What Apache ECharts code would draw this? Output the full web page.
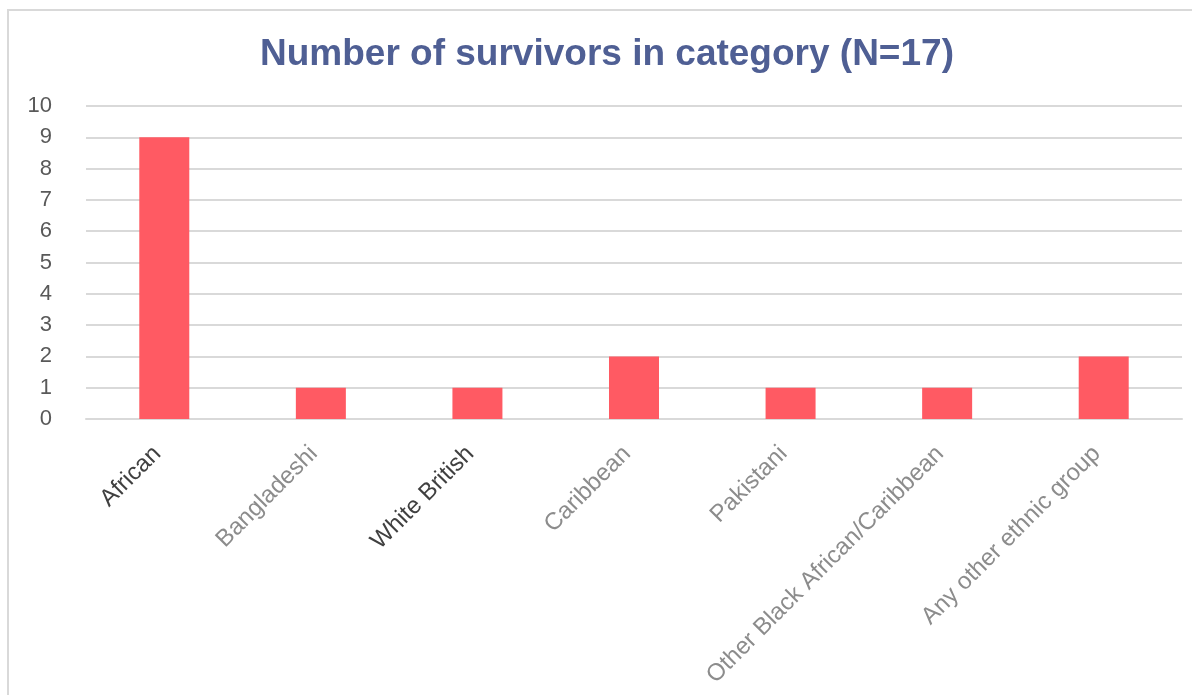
<!DOCTYPE html>
<html>
<head>
<meta charset="utf-8">
<script src="https://cdn.jsdelivr.net/npm/echarts@6/dist/echarts.min.js"></script>
<style>
  html, body { margin: 0; padding: 0; background: #fff; }
  #chart { width: 1192px; height: 695px; }
</style>
</head>
<body>
<div id="chart"></div>
<script>
// categories and values
const categories = ["African", "Bangladeshi", "White British", "Caribbean", "Pakistani", "Other Black African/Caribbean", "Any other ethnic group"];
const survivors = [9, 1, 1, 2, 1, 1, 2];
// label colours: some labels are darker in the original
const labelColors = ["#404040", "#8c8c8c", "#404040", "#8c8c8c", "#8c8c8c", "#8c8c8c", "#8c8c8c"];
const yTicks = [0, 10, 1]; // min, max, interval

const chart = echarts.init(document.getElementById("chart"));

const option = {
  animation: false,
  backgroundColor: "#fff",
  title: {
    text: "Number of survivors in category (N=17)",
    left: 255,
    top: 31,
    textStyle: {
      fontFamily: "Liberation Sans",
      fontSize: 37,
      fontWeight: "bold",
      color: "#4f5f94"
    }
  },
  graphic: [
    {
      type: "rect",
      shape: { x: 8, y: 10, width: 1200, height: 700 },
      style: { fill: null, stroke: "#d9d9d9", lineWidth: 2 },
      silent: true
    }
  ],
  grid: {
    left: 86,
    right: 10,
    top: 106,
    bottom: 276
  },
  xAxis: {
    type: "category",
    data: categories,
    axisLine: { show: true, lineStyle: { color: "#d9d9d9", width: 2 } },
    axisTick: { show: false },
    axisLabel: {
      rotate: 45,
      interval: 0,
      margin: 24,
      padding: [0, 10, 0, 0],
      fontFamily: "Liberation Sans",
      fontSize: 24,
      color: (value, index) => labelColors[index]
    }
  },
  yAxis: {
    type: "value",
    min: yTicks[0],
    max: yTicks[1],
    interval: yTicks[2],
    axisLine: { show: false },
    axisTick: { show: false },
    splitLine: { lineStyle: { color: "#d9d9d9", width: 2 } },
    axisLabel: {
      margin: 34,
      fontFamily: "Liberation Sans",
      fontSize: 22,
      color: "#595959"
    }
  },
  series: [
    {
      type: "bar",
      data: survivors,
      barWidth: 50,
      itemStyle: { color: "#ff5a63" }
    }
  ]
};

chart.setOption(option);
</script>
</body>
</html>
